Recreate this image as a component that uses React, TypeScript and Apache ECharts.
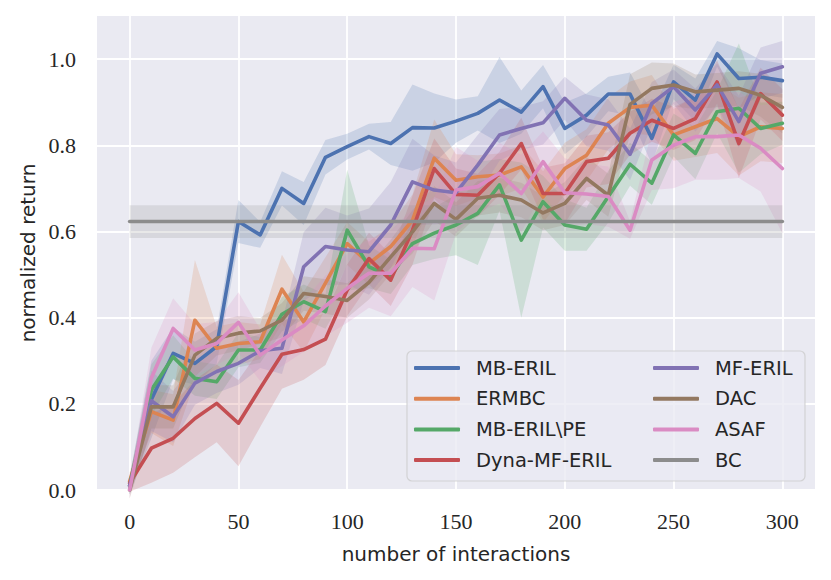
import React, { useEffect, useRef } from "react";
import * as echarts from "echarts";

// interaction counts
const STEPS = [0, 10, 20, 30, 40, 50, 60, 70, 80, 90, 100, 110, 120, 130, 140, 150, 160, 170, 180, 190, 200, 210, 220, 230, 240, 250, 260, 270, 280, 290, 300];

// mean normalized return per method
const MB_ERIL = [0.01, 0.21, 0.317, 0.294, 0.333, 0.623, 0.592, 0.70, 0.665, 0.772, 0.797, 0.82, 0.804, 0.841, 0.840, 0.856, 0.874, 0.905, 0.877, 0.936, 0.839, 0.870, 0.919, 0.919, 0.816, 0.947, 0.905, 1.012, 0.955, 0.958, 0.950];
const ERMBC = [0.02, 0.182, 0.162, 0.394, 0.329, 0.340, 0.344, 0.466, 0.39, 0.48, 0.572, 0.526, 0.565, 0.626, 0.77, 0.719, 0.727, 0.731, 0.75, 0.68, 0.746, 0.777, 0.851, 0.888, 0.893, 0.824, 0.843, 0.862, 0.82, 0.843, 0.839];
const MB_ERIL_PE = [0.01, 0.232, 0.309, 0.259, 0.251, 0.325, 0.325, 0.408, 0.437, 0.414, 0.603, 0.518, 0.495, 0.572, 0.596, 0.615, 0.642, 0.708, 0.58, 0.669, 0.615, 0.605, 0.681, 0.756, 0.712, 0.824, 0.781, 0.878, 0.886, 0.839, 0.851];
const DYNA_MF_ERIL = [0.016, 0.097, 0.12, 0.166, 0.201, 0.155, 0.236, 0.315, 0.326, 0.35, 0.464, 0.537, 0.487, 0.603, 0.746, 0.686, 0.684, 0.735, 0.804, 0.688, 0.688, 0.762, 0.77, 0.828, 0.858, 0.839, 0.862, 0.947, 0.804, 0.920, 0.870];
const MF_ERIL = [0.01, 0.207, 0.17, 0.248, 0.275, 0.294, 0.323, 0.329, 0.518, 0.565, 0.557, 0.553, 0.615, 0.715, 0.696, 0.690, 0.754, 0.824, 0.839, 0.852, 0.909, 0.858, 0.847, 0.779, 0.897, 0.936, 0.882, 0.94, 0.855, 0.967, 0.982];
const DAC = [0.0, 0.193, 0.193, 0.313, 0.352, 0.364, 0.369, 0.394, 0.456, 0.449, 0.440, 0.482, 0.541, 0.599, 0.665, 0.628, 0.677, 0.684, 0.673, 0.643, 0.665, 0.723, 0.684, 0.895, 0.932, 0.94, 0.924, 0.928, 0.932, 0.916, 0.888];
const ASAF = [0.0, 0.26, 0.375, 0.325, 0.34, 0.389, 0.313, 0.348, 0.381, 0.427, 0.468, 0.503, 0.503, 0.561, 0.56, 0.696, 0.704, 0.735, 0.688, 0.762, 0.69, 0.687, 0.681, 0.603, 0.766, 0.80, 0.82, 0.82, 0.824, 0.793, 0.746];

// half-width of the shaded confidence band per method
const MB_ERIL_CI = [0.02, 0.09, 0.06, 0.05, 0.04, 0.05, 0.03, 0.04, 0.05, 0.04, 0.03, 0.03, 0.05, 0.1, 0.08, 0.05, 0.04, 0.1, 0.05, 0.05, 0.06, 0.05, 0.04, 0.05, 0.06, 0.04, 0.05, 0.03, 0.07, 0.04, 0.04];
const ERMBC_CI = [0.02, 0.05, 0.06, 0.14, 0.05, 0.05, 0.04, 0.08, 0.07, 0.06, 0.05, 0.05, 0.05, 0.06, 0.09, 0.06, 0.05, 0.05, 0.05, 0.06, 0.06, 0.06, 0.06, 0.06, 0.07, 0.06, 0.07, 0.08, 0.09, 0.08, 0.08];
const MB_ERIL_PE_CI = [0.02, 0.06, 0.05, 0.04, 0.04, 0.04, 0.03, 0.04, 0.04, 0.04, 0.14, 0.05, 0.04, 0.05, 0.06, 0.07, 0.12, 0.06, 0.18, 0.06, 0.06, 0.05, 0.06, 0.05, 0.05, 0.05, 0.06, 0.05, 0.15, 0.06, 0.05];
const DYNA_MF_ERIL_CI = [0.02, 0.08, 0.08, 0.09, 0.09, 0.1, 0.09, 0.08, 0.07, 0.06, 0.06, 0.06, 0.06, 0.08, 0.07, 0.06, 0.05, 0.05, 0.06, 0.06, 0.07, 0.06, 0.06, 0.05, 0.05, 0.05, 0.05, 0.05, 0.08, 0.06, 0.06];
const MF_ERIL_CI = [0.02, 0.07, 0.06, 0.05, 0.05, 0.05, 0.04, 0.06, 0.08, 0.09, 0.08, 0.1, 0.1, 0.1, 0.08, 0.07, 0.07, 0.06, 0.05, 0.05, 0.05, 0.06, 0.06, 0.06, 0.05, 0.04, 0.05, 0.05, 0.06, 0.06, 0.06];
const DAC_CI = [0.02, 0.05, 0.05, 0.05, 0.04, 0.04, 0.03, 0.04, 0.04, 0.04, 0.04, 0.04, 0.04, 0.05, 0.04, 0.04, 0.04, 0.04, 0.04, 0.04, 0.05, 0.05, 0.05, 0.07, 0.06, 0.05, 0.04, 0.04, 0.04, 0.05, 0.06];
const ASAF_CI = [0.02, 0.07, 0.07, 0.06, 0.05, 0.07, 0.06, 0.06, 0.06, 0.07, 0.08, 0.08, 0.1, 0.09, 0.12, 0.1, 0.06, 0.07, 0.09, 0.07, 0.08, 0.07, 0.07, 0.02, 0.07, 0.1, 0.1, 0.1, 0.1, 0.1, 0.15];

// behaviour cloning baseline
const BC_STEPS = [0, 300];
const BC_MEAN = [0.623, 0.623];
const BC_CI = [0.038, 0.038];

const X_TICKS = [0, 50, 100, 150, 200, 250, 300];
const Y_TICKS = [0.0, 0.2, 0.4, 0.6, 0.8, 1.0];

type S = { name: string; color: string; x: number[]; mean: number[]; ci: number[] };

const METHODS: S[] = [
  { name: "MB-ERIL", color: "#4C72B0", x: STEPS, mean: MB_ERIL, ci: MB_ERIL_CI },
  { name: "ERMBC", color: "#DD8452", x: STEPS, mean: ERMBC, ci: ERMBC_CI },
  { name: "MB-ERIL\\PE", color: "#55A868", x: STEPS, mean: MB_ERIL_PE, ci: MB_ERIL_PE_CI },
  { name: "Dyna-MF-ERIL", color: "#C44E52", x: STEPS, mean: DYNA_MF_ERIL, ci: DYNA_MF_ERIL_CI },
  { name: "MF-ERIL", color: "#8172B3", x: STEPS, mean: MF_ERIL, ci: MF_ERIL_CI },
  { name: "DAC", color: "#937860", x: STEPS, mean: DAC, ci: DAC_CI },
  { name: "ASAF", color: "#DA8BC3", x: STEPS, mean: ASAF, ci: ASAF_CI },
  { name: "BC", color: "#8C8C8C", x: BC_STEPS, mean: BC_MEAN, ci: BC_CI },
];

const SANS = "DejaVu Sans";
const SERIF = "Liberation Serif";
const TEXT = "#262626";

export default function App() {
  const ref = useRef<HTMLDivElement>(null);
  useEffect(() => {
    if (!ref.current) return;
    const chart = echarts.init(ref.current, null, { renderer: "svg" });

    const bands = METHODS.map((m, k) => {
      const data = m.x.map((t, j) => [t, m.mean[j] - m.ci[j], m.mean[j] + m.ci[j]]);
      return {
        type: "custom",
        name: m.name + " band",
        silent: true,
        z: 1,
        encode: { x: 0, y: [1, 2] },
        data,
        renderItem: (params: any, api: any) => {
          if (params.dataIndex !== 0) return null;
          const upper = data.map((d) => api.coord([d[0], d[2]]));
          const lower = data.map((d) => api.coord([d[0], d[1]])).reverse();
          return {
            type: "polygon",
            shape: { points: upper.concat(lower) },
            style: { fill: m.color, opacity: 0.2 },
            z2: k,
          };
        },
      };
    });

    const lines = METHODS.map((m) => ({
      type: "line",
      name: m.name,
      color: m.color,
      data: m.x.map((t, j) => [t, m.mean[j]]),
      symbol: "none",
      showSymbol: false,
      z: 3,
      lineStyle: { width: 3.6, color: m.color, join: "round", cap: "round" },
      emphasis: { disabled: true },
    }));

    const legendCommon = {
      orient: "vertical",
      top: 358,
      padding: 0,
      z: 100,
      zlevel: 0,
      itemWidth: 46,
      itemHeight: 4,
      itemGap: 10.7,
      icon: "roundRect",
      selectedMode: false,
      textStyle: { fontFamily: SANS, fontSize: 19.5, color: TEXT, lineHeight: 20, padding: [0, 0, 0, 11] },
    };

    chart.setOption({
      animation: false,
      backgroundColor: "#ffffff",
      grid: {
        left: 97,
        top: 16,
        width: 718,
        height: 474,
        show: true,
        backgroundColor: "#EAEAF2",
        borderWidth: 0,
      },
      xAxis: {
        type: "value",
        min: -15,
        max: 315,
        axisLine: { show: false },
        axisTick: { show: false },
        axisLabel: {
          showMinLabel: false,
          showMaxLabel: false,
          margin: 20,
          fontFamily: SERIF,
          fontSize: 22,
          color: TEXT,
          formatter: (v: number) => (X_TICKS.indexOf(v) >= 0 ? String(v) : ""),
        },
        splitLine: { show: true, showMinLine: false, showMaxLine: false, lineStyle: { color: "#ffffff", width: 1.8 } },
        name: "number of interactions",
        nameLocation: "middle",
        nameGap: 54,
        nameTextStyle: { fontFamily: SANS, fontSize: 20, color: TEXT },
      },
      yAxis: {
        type: "value",
        min: 0,
        max: 1.1,
        axisLine: { show: false },
        axisTick: { show: false },
        axisLabel: {
          showMaxLabel: false,
          margin: 21,
          fontFamily: SERIF,
          fontSize: 22,
          color: TEXT,
          formatter: (v: number) => {
            const hit = Y_TICKS.find((y) => Math.abs(y - v) < 1e-6);
            return hit === undefined ? "" : hit.toFixed(1);
          },
        },
        splitLine: { show: true, showMaxLine: false, lineStyle: { color: "#ffffff", width: 1.8 } },
        name: "normalized return",
        nameLocation: "middle",
        nameGap: 58,
        nameTextStyle: { fontFamily: SANS, fontSize: 20, color: TEXT },
      },
      legend: [
        { ...legendCommon, left: 414, data: METHODS.slice(0, 4).map((m) => m.name) },
        { ...legendCommon, left: 653, data: METHODS.slice(4).map((m) => m.name) },
      ],
      graphic: [
        {
          type: "rect",
          z: 10,
          silent: true,
          shape: { x: 407, y: 351, width: 398, height: 130, r: 5 },
          style: { fill: "rgba(234,234,242,0.8)", stroke: "rgba(204,204,204,0.8)", lineWidth: 1.2 },
        },
      ],
      series: [...bands, ...lines],
    });

    return () => chart.dispose();
  }, []);

  return <div ref={ref} style={{ position: "absolute", left: 0, top: 0, width: 831, height: 580 }} />;
}
